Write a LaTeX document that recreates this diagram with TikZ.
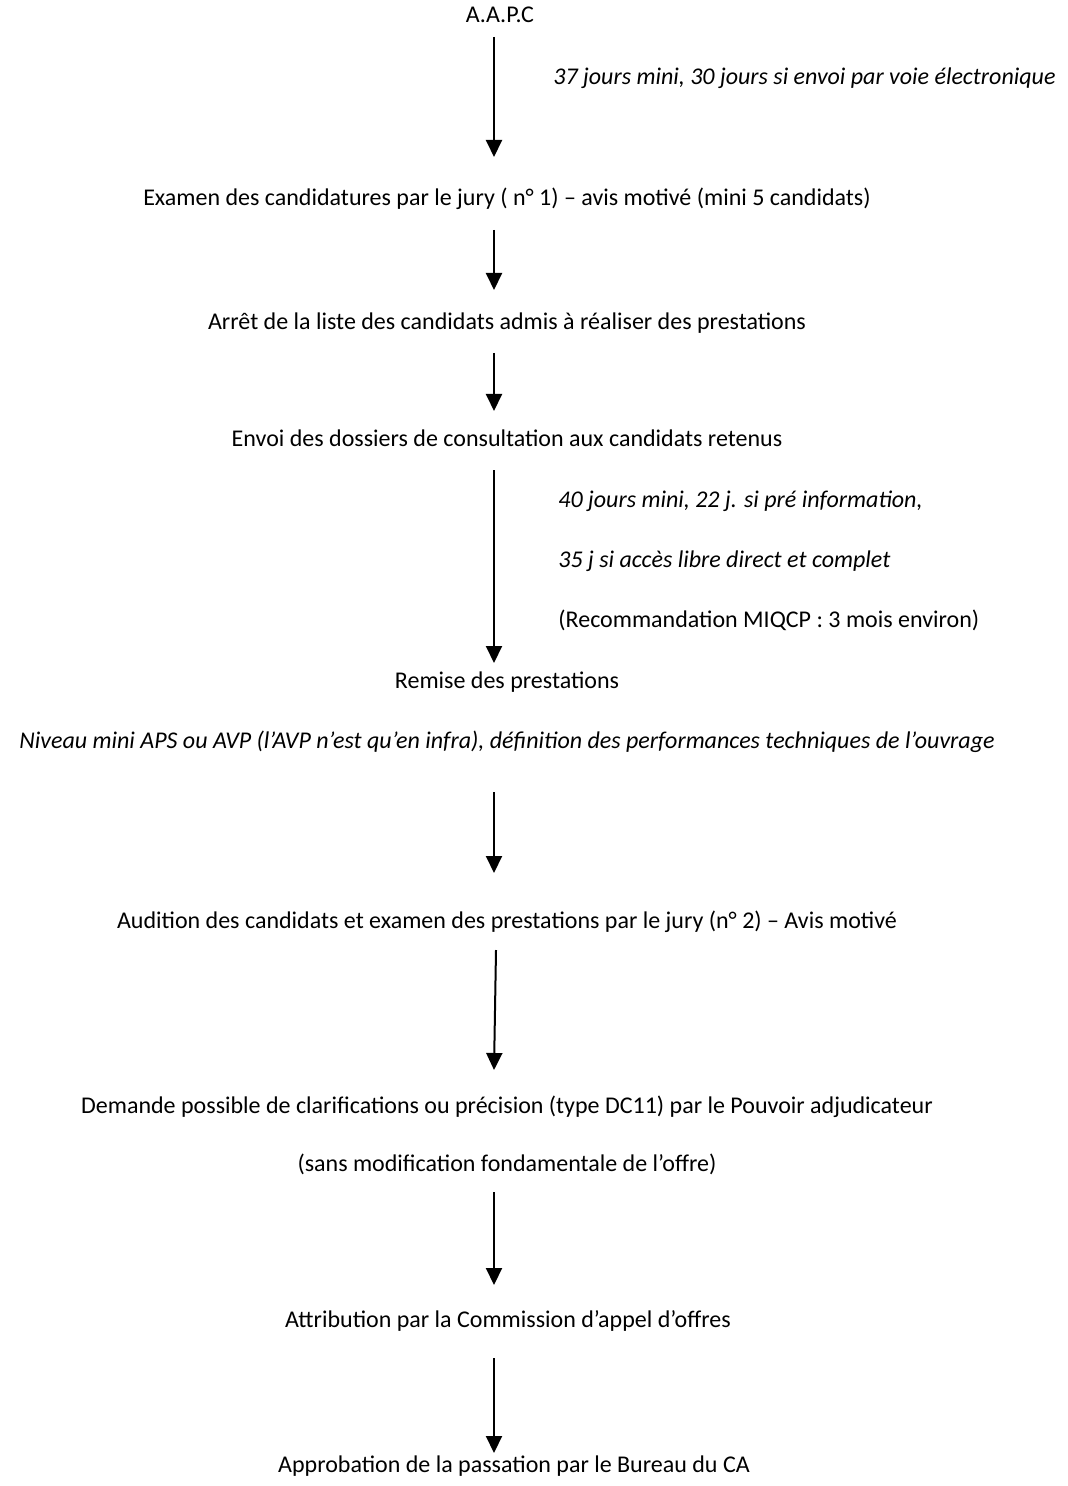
\documentclass[tikz,border=0pt]{standalone}
\usepackage{fontspec}
\setmainfont{Carlito}
\usetikzlibrary{arrows.meta}
\tikzset{
  LBL/.style={
    font=\fontsize{12pt}{14pt}\selectfont, inner sep=0pt,
    text height=1.5ex, text depth=.3ex
  },
  NOTE/.style={
    LBL, font=\fontsize{12pt}{14pt}\selectfont\itshape, anchor=west
  },
  ARR/.style={
    -{Triangle[length=8.5pt,width=8pt]},
    line width=1pt, color=black
  },
}
\begin{document}
\begin{tikzpicture}[x=0.5pt,y=-0.5pt]
\useasboundingbox (0,0) rectangle (1068,1486);

%================ STEPS =================
\node[LBL] (aapc)  at (500,  17) {A.A.P.C};
\node[LBL] (exam)  at (507, 200) {Examen des candidatures par le jury ( n° 1) – avis motivé (mini 5 candidats)};
\node[LBL] (arret) at (507, 324) {Arrêt de la liste des candidats admis à réaliser des prestations};
\node[LBL] (envoi) at (507, 441) {Envoi des dossiers de consultation aux candidats retenus};
\node[LBL] (remis) at (507, 683) {Remise des prestations};
\node[LBL] (audit) at (507, 923) {Audition des candidats et examen des prestations par le jury (n° 2) – Avis motivé};
\node[LBL] (deman) at (507,1108) {Demande possible de clarifications ou précision (type DC11) par le Pouvoir adjudicateur};
\node[LBL] (sansm) at (507,1166) {(sans modification fondamentale de l’offre)};
\node[LBL] (attri) at (508,1322) {Attribution par la Commission d’appel d’offres};
\node[LBL] (appro) at (514,1467) {Approbation de la passation par le Bureau du CA};

%================ NOTES =================
\node[NOTE] (n37)  at (553,  79) {37 jours mini, 30 jours si envoi par voie électronique};
\node[NOTE] (n40)  at (558, 502) {40 jours mini, 22 j. si pré information,};
\node[NOTE] (n35)  at (558, 562) {35 j si accès libre direct et complet};
\node[LBL,anchor=west] (miq) at (558, 622) {(Recommandation MIQCP : 3 mois environ)};
\node[NOTE,anchor=center] (nivo) at (507, 743) {Niveau mini APS ou AVP (l’AVP n’est qu’en infra), définition des performances techniques de l’ouvrage};

%================ ARROW ENDS =================
\coordinate (a1s) at (494,  37); \coordinate (a1e) at (494, 157);
\coordinate (a2s) at (494, 230); \coordinate (a2e) at (494, 290);
\coordinate (a3s) at (494, 353); \coordinate (a3e) at (494, 411);
\coordinate (a4s) at (494, 470); \coordinate (a4e) at (494, 663);
\coordinate (a5s) at (494, 792); \coordinate (a5e) at (494, 873);
\coordinate (a6s) at (496, 950); \coordinate (a6e) at (494,1070);
\coordinate (a7s) at (494,1192); \coordinate (a7e) at (494,1285);
\coordinate (a8s) at (494,1358); \coordinate (a8e) at (494,1453);

\draw[ARR] (a1s)--(a1e);
\draw[ARR] (a2s)--(a2e);
\draw[ARR] (a3s)--(a3e);
\draw[ARR] (a4s)--(a4e);
\draw[ARR] (a5s)--(a5e);
\draw[ARR] (a6s)--(a6e);
\draw[ARR] (a7s)--(a7e);
\draw[ARR] (a8s)--(a8e);

\end{tikzpicture}
\end{document}
